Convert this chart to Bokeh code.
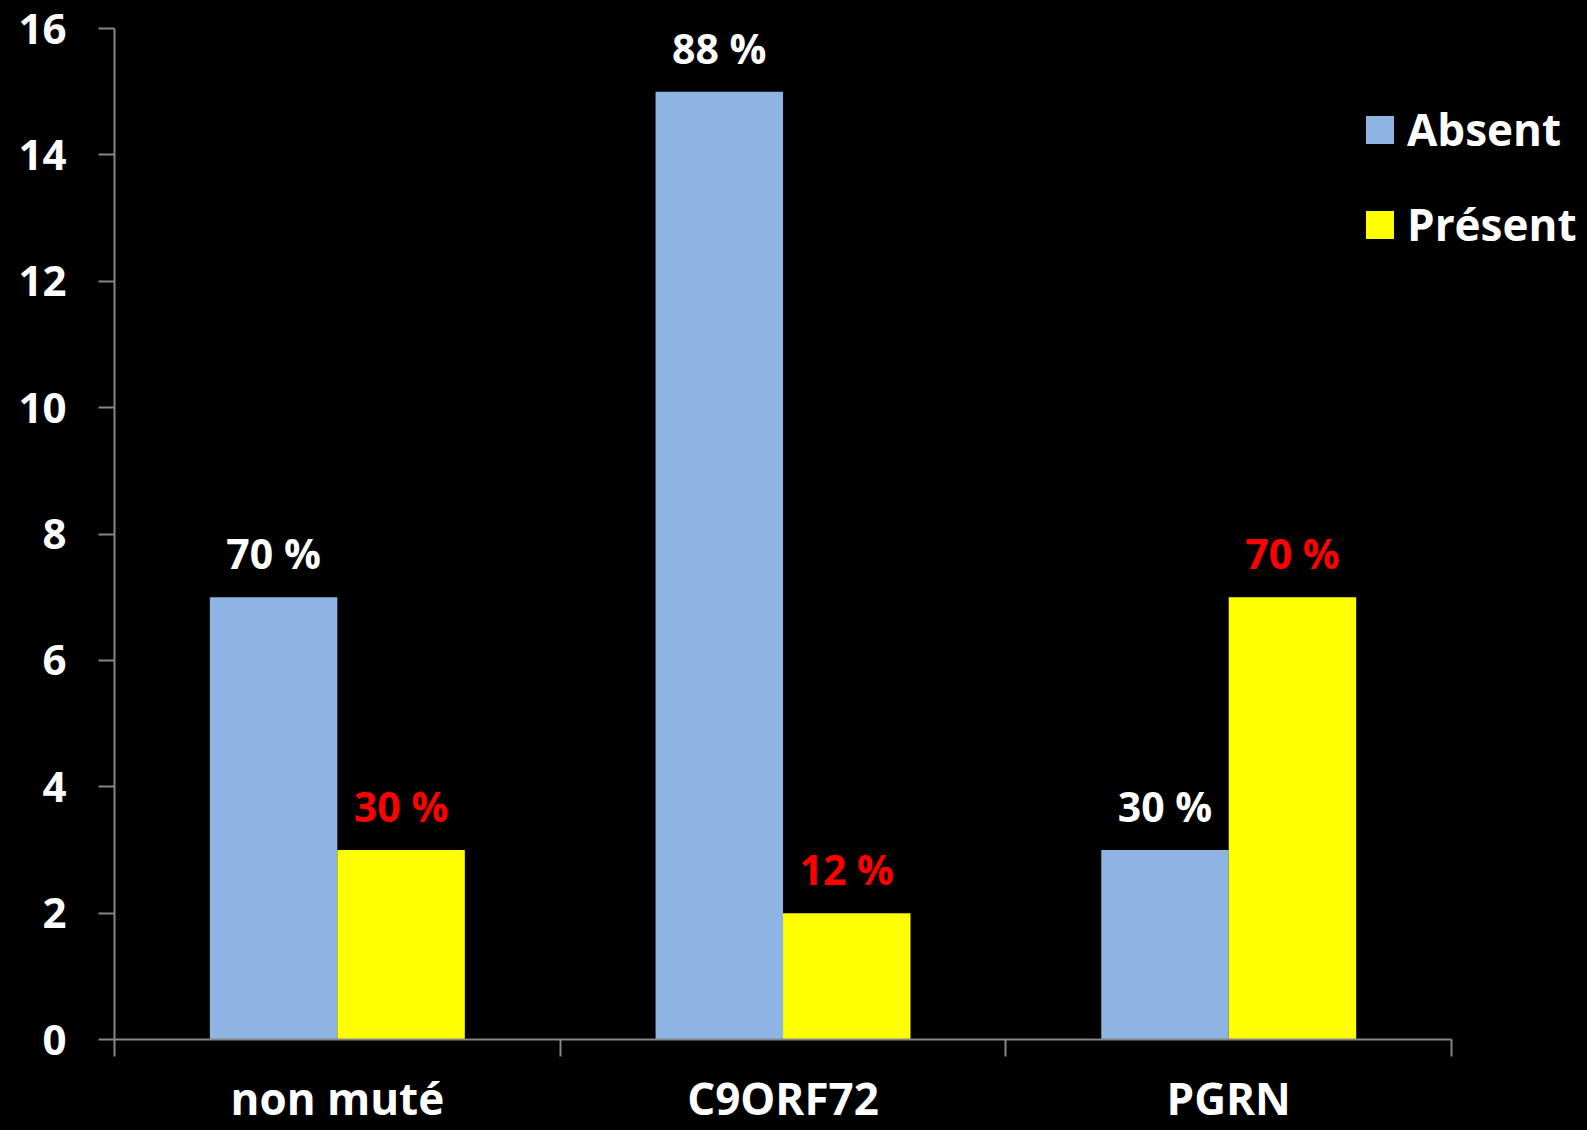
from bokeh.plotting import figure
from bokeh.models import ColumnDataSource, Range1d, FixedTicker, Legend, LegendItem
from bokeh.transform import dodge
from bokeh.core.properties import value
from bokeh.embed import file_html
from bokeh.resources import INLINE

categories = ["non muté", "C9ORF72", "PGRN"]
absent = [7, 15, 3]
present = [3, 2, 7]
absent_labels = ["70 %", "88 %", "30 %"]
present_labels = ["30 %", "12 %", "70 %"]
y_ticks = [0, 2, 4, 6, 8, 10, 12, 14, 16]

FONT = value("Open Sans")
BLUE = "#8EB4E3"
YELLOW = "#FFFF00"
AXIS = "#868686"

n = len(categories)
centers = [i + 0.5 for i in range(n)]
src = ColumnDataSource(dict(xc=centers, absent=absent, present=present,
                            alab=absent_labels, plab=present_labels))

# frame runs to the right edge so the legend is not clipped;
# the x axis itself is bounded to the three categories
p = figure(width=1587, height=1130, output_backend="svg", toolbar_location=None,
           x_range=Range1d(0, 3.305), y_range=Range1d(0, 16),
           min_border_left=114, min_border_right=0, min_border_top=28, min_border_bottom=80)
p.styles = {"background-color": "black"}
p.background_fill_color = "black"
p.border_fill_color = "black"
p.outline_line_color = None
p.outline_line_alpha = 0
p.xgrid.visible = False
p.ygrid.visible = False
p.xgrid.grid_line_color = None
p.ygrid.grid_line_color = None

w = 0.286
r1 = p.vbar(x=dodge("xc", -w / 2, range=p.x_range), top="absent", width=w, source=src,
            fill_color=BLUE, line_color=None)
r2 = p.vbar(x=dodge("xc", w / 2, range=p.x_range), top="present", width=w, source=src,
            fill_color=YELLOW, line_color=None)

p.text(x=dodge("xc", -w / 2, range=p.x_range), y="absent", text="alab", source=src,
       text_align="center", text_baseline="middle", y_offset=-44,
       text_font=FONT, text_font_style="bold", text_font_size="41px", text_color="white")
p.text(x=dodge("xc", w / 2, range=p.x_range), y="present", text="plab", source=src,
       text_align="center", text_baseline="middle", y_offset=-44,
       text_font=FONT, text_font_style="bold", text_font_size="41px", text_color="#FF0000")

ya = p.yaxis[0]
ya.ticker = FixedTicker(ticks=y_ticks)
ya.axis_line_color = AXIS
ya.axis_line_width = 2
ya.major_tick_line_color = AXIS
ya.major_tick_line_width = 2
ya.major_tick_out = 16
ya.major_tick_in = 0
ya.minor_tick_line_color = None
ya.major_label_text_color = "white"
ya.major_label_text_font = "Open Sans"
ya.major_label_text_font_style = "bold"
ya.major_label_text_font_size = "42px"
ya.major_label_standoff = 32

xa = p.xaxis[0]
xa.bounds = (0.0, float(n))
xa.ticker = FixedTicker(ticks=centers, minor_ticks=list(range(n + 1)))
xa.major_label_overrides = {c: lab for c, lab in zip(centers, categories)}
xa.axis_line_color = AXIS
xa.axis_line_width = 2
xa.major_tick_line_color = None
xa.major_tick_out = 0
xa.major_tick_in = 0
xa.minor_tick_line_color = AXIS
xa.minor_tick_line_width = 2
xa.minor_tick_out = 17
xa.minor_tick_in = 0
xa.major_label_text_color = "white"
xa.major_label_text_font = "Open Sans"
xa.major_label_text_font_style = "bold"
xa.major_label_text_font_size = "44px"
xa.major_label_standoff = 11

legend = Legend(items=[LegendItem(label="Absent", renderers=[r1]),
                       LegendItem(label="Présent", renderers=[r2])],
                location=(1248, 785), orientation="vertical")
legend.background_fill_alpha = 0
legend.border_line_color = None
legend.label_text_color = "white"
legend.label_text_font = "Open Sans"
legend.label_text_font_style = "bold"
legend.label_text_font_size = "44px"
legend.glyph_width = 35
legend.glyph_height = 35
legend.label_height = 50
legend.label_standoff = 10
legend.spacing = 35
legend.padding = 0
legend.margin = 0
p.add_layout(legend)

open("out.html", "w").write(file_html(p, INLINE))
